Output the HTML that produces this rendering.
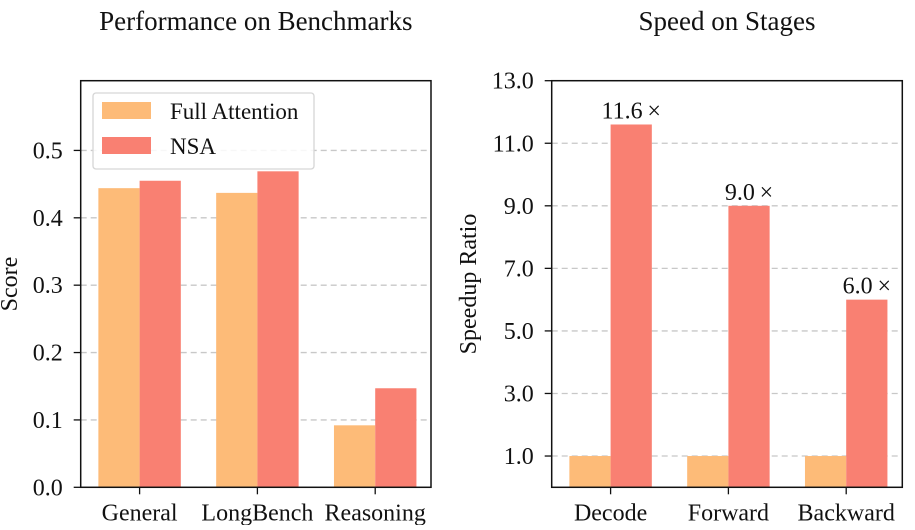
<!DOCTYPE html>
<html><head><meta charset="utf-8"><style>
body{margin:0;background:#fff;}
text{font-family:"Liberation Serif","Times New Roman",serif !important;fill:#111;}
</style></head><body>
<svg id="chart" width="915" height="525" xmlns="http://www.w3.org/2000/svg" font-family="Liberation Serif, serif">
</svg>
<script>
const benchCategories=["General","LongBench","Reasoning"];
const benchFull=[0.444,0.437,0.092];
const benchNSA=[0.455,0.469,0.147];
const benchTicks=[0.0,0.1,0.2,0.3,0.4,0.5];
const stageCategories=["Decode","Forward","Backward"];
const stageFull=[1.0,1.0,1.0];
const stageNSA=[11.6,9.0,6.0];
const stageTicks=[1.0,3.0,5.0,7.0,9.0,11.0,13.0];
const stageLabels=["11.6\u2009×","9.0\u2009×","6.0\u2009×"];

const NS="http://www.w3.org/2000/svg";
const svg=document.getElementById('chart');
function mk(tag,attrs,parent,text){const e=document.createElementNS(NS,tag);for(const k in attrs)e.setAttribute(k,attrs[k]);if(tag==='text')e.setAttribute('font-family','Liberation Serif, serif');if(text!==undefined)e.textContent=text;(parent||svg).appendChild(e);return e;}
const C_FULL="#fdbb78",C_NSA="#f98072";

function panel(o){
  const g=mk('g',{});
  
  
  const x=i=>o.x0+(i+0.5)*o.step;
  const y=v=>o.bottom-(v-o.ymin)/(o.ymax-o.ymin)*(o.bottom-o.top);
  const bw=0.35*o.step;
  o.ticks.forEach(t=>{
    const gl=mk('line',{x1:o.x0,x2:o.x1,y1:y(t),y2:y(t),stroke:'#c8c8c8','stroke-width':1.3,'stroke-dasharray':'6,4'},g);
    
    
  });
  o.cats.forEach((c,i)=>{
    const b1=mk('rect',{x:x(i)-bw,y:y(o.s1[i]),width:bw,height:y(o.ymin)-y(o.s1[i]),fill:C_FULL},g);
    
    
    const b2=mk('rect',{x:x(i),y:y(o.s2[i]),width:bw,height:y(o.ymin)-y(o.s2[i]),fill:C_NSA},g);
    
    
    if(o.labels){
      const t=mk('text',{x:x(i)+bw/2,y:y(o.s2[i])-6,'text-anchor':'middle','font-size':24},g,o.labels[i]);
      
      
    }
    mk('line',{x1:x(i),x2:x(i),y1:o.bottom,y2:o.bottom+7,stroke:'#111','stroke-width':1.3},g);
    const xl=mk('text',{x:x(i),y:o.bottom+33,'text-anchor':'middle','font-size':24},g,c);
    
    
  });
  o.ticks.forEach(t=>{
    mk('line',{x1:o.x0-7,x2:o.x0,y1:y(t),y2:y(t),stroke:'#111','stroke-width':1.3},g);
    const yl=mk('text',{x:o.x0-18,y:y(t)+8,'text-anchor':'end','font-size':24},g,t.toFixed(1));
    
    
  });
  mk('rect',{x:o.x0,y:o.top,width:o.x1-o.x0,height:o.bottom-o.top,fill:'none',stroke:'#111','stroke-width':1.5},g);
  const tt=mk('text',{x:(o.x0+o.x1)/2,y:30,'text-anchor':'middle','font-size':27},g,o.title);
  
  
  const cy=(o.top+o.bottom)/2;
  const yt=mk('text',{x:o.ylx,y:cy,'text-anchor':'middle','font-size':24,transform:`rotate(-90 ${o.ylx} ${cy})`},g,o.ylabel);
  
  
  return g;
}
panel({name:'benchmark-panel',x0:80.7,x1:431,top:80.7,bottom:487.3,step:117.8,ymin:0,ymax:0.6035,ticks:benchTicks,cats:benchCategories,s1:benchFull,s2:benchNSA,title:'Performance on Benchmarks',ylabel:'Score',ylx:17});
panel({name:'speed-panel',x0:551.7,x1:902.3,top:80.7,bottom:487.3,step:117.8,ymin:0.0,ymax:13,ticks:stageTicks,cats:stageCategories,s1:stageFull,s2:stageNSA,labels:stageLabels,title:'Speed on Stages',ylabel:'Speedup Ratio',ylx:476});
const lg=mk('g',{});


mk('rect',{x:93,y:93,width:221,height:76,rx:3,fill:'#fff','fill-opacity':0.85,stroke:'#d6d6d6','stroke-width':1.3},lg);
mk('rect',{x:102,y:102,width:49,height:17,fill:C_FULL},lg);
mk('rect',{x:102,y:137,width:49,height:17,fill:C_NSA},lg);
const l1=mk('text',{x:170,y:119,'font-size':23},lg,'Full Attention');


const l2=mk('text',{x:170,y:154,'font-size':23},lg,'NSA');


</script>
</body></html>
